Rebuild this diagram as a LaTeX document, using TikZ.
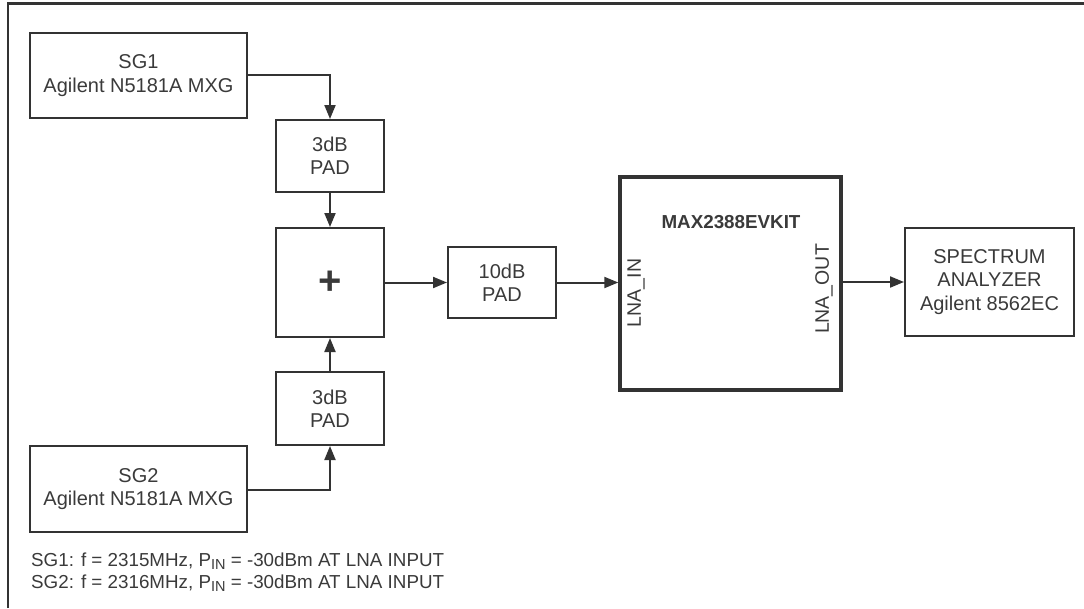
\documentclass[tikz,border=0pt]{standalone}
\usepackage{fontspec}
\setmainfont{Liberation Sans}
\usetikzlibrary{arrows.meta}
\definecolor{ln}{HTML}{333333}
\definecolor{tx}{HTML}{3A3A3A}
\newcommand{\subsc}[1]{\raisebox{-0.3ex}{\fontsize{14.5}{14.5}\selectfont #1}}
\begin{document}
\begin{tikzpicture}[x=1pt,y=-1pt,
  box/.style={draw=ln,line width=2pt,text=tx,align=center,inner sep=0pt,font=\fontsize{20}{23.5}\selectfont},
  conn/.style={draw=ln,line width=2pt,-{Triangle[length=14pt,width=11pt]}},
  lbl/.style={text=tx,inner sep=0pt,font=\fontsize{19.5}{22}\selectfont},
  note/.style={text=tx,inner sep=0pt,font=\fontsize{18.8}{21}\selectfont}]
\useasboundingbox (0,0) rectangle (1084,608);
\draw[ln,line width=2.2pt] (8,608) -- (8,3.5) -- (1084,3.5);
\node[box,minimum width=217pt,minimum height=85pt] (sg1) at (138.5,75.5) {SG1\\Agilent N5181A MXG};
\node[box,minimum width=108pt,minimum height=72pt] (pad1) at (330,156) {3dB\\PAD};
\node[box,minimum width=108pt,minimum height=109pt] (sum) at (330,282.5) {};
\node[text=tx,inner sep=0pt,font=\bfseries\fontsize{40}{40}\selectfont] (plus) at (330,283) {+};
\node[box,minimum width=108pt,minimum height=73pt] (pad2) at (330,408.5) {3dB\\PAD};
\node[box,minimum width=217pt,minimum height=86pt] (sg2) at (138.5,489) {SG2\\Agilent N5181A MXG};
\node[box,minimum width=108pt,minimum height=71pt] (pad3) at (502,282.5) {10dB\\PAD};
\node[box,line width=3.4pt,minimum width=221pt,minimum height=213pt] (max) at (730.5,283.5) {};
\node[text=tx,inner sep=0pt,font=\bfseries\fontsize{18.8}{18.8}\selectfont] (title) at (731,222) {MAX2388EVKIT};
\node[lbl,rotate=90] (lin) at (636,293) {LNA\_IN};
\node[lbl,rotate=90] (lout) at (824,289) {LNA\_OUT};
\node[box,minimum width=169pt,minimum height=108pt] (sa) at (989.5,282) {SPECTRUM\\ANALYZER\\Agilent 8562EC};
\coordinate (c1) at (330,75);
\coordinate (c2) at (330,490);
\draw[conn] (sg1.east |- c1) -- (c1) -- (pad1.north);
\draw[conn] (pad1.south) -- (sum.north);
\draw[conn] (sg2.east |- c2) -- (c2) -- (pad2.south);
\draw[conn] (pad2.north) -- (sum.south);
\draw[conn] (sum.east |- pad3.west) -- (pad3.west);
\draw[conn] (pad3.east) -- (max.west |- pad3.east);
\draw[conn] (max.east |- sa.west) -- (sa.west);
\node[note,anchor=west] (n1) at (31,561) {SG1: f = 2315MHz, P\subsc{IN} = -30dBm AT LNA INPUT};
\node[note,anchor=west] (n2) at (31,583) {SG2: f = 2316MHz, P\subsc{IN} = -30dBm AT LNA INPUT};
\end{tikzpicture}
\end{document}
